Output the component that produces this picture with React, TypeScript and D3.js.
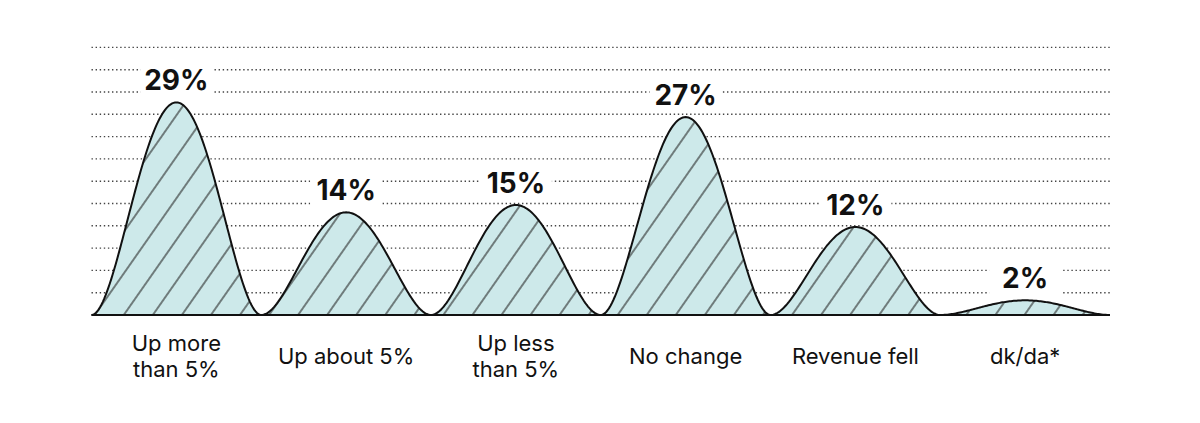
import React from 'react';
import * as d3 from 'd3';

const categories = ["Up more than 5%", "Up about 5%", "Up less than 5%", "No change", "Revenue fell", "dk/da*"];
const categoryLines = [["Up more", "than 5%"], ["Up about 5%"], ["Up less", "than 5%"], ["No change"], ["Revenue fell"], ["dk/da*"]];
const values = [29, 14, 15, 27, 12, 2];
const valueLabels = ["29%", "14%", "15%", "27%", "12%", "2%"];
const gridCount = 12;
const yMax = 36.5;

const W = 1200;
const H = 423;
const baseY = 315;
const FONT = "Inter, 'Noto Sans', sans-serif";

export default function App() {
  const x = d3.scaleBand<string>().domain(categories).range([91.5, 1110]).padding(0);
  const y = d3.scaleLinear().domain([0, yMax]).range([baseY, 47.4]);
  const gridVals = d3.range(1, gridCount + 1).map((i) => (i * yMax) / gridCount);
  const bw = x.bandwidth();
  const line = d3.line<[number, number]>().x((d) => d[0]).y((d) => d[1]).curve(d3.curveLinear);
  const steps = d3.range(0, 121).map((i) => i / 120);

  const bumpPath = (cat: string, v: number) => {
    const x0 = x(cat) as number;
    const pts: [number, number][] = steps.map((t) => {
      const d = 2 * t - 1;
      const f = (1 - d * d) * (1 - d * d);
      return [x0 + t * bw, y(v * f)];
    });
    return line(pts) as string;
  };

  const bumpArea = (cat: string, v: number) => bumpPath(cat, v) + `L${(x(cat) as number) + bw},${baseY}L${x(cat)},${baseY}Z`;

  return (
    <svg width={W} height={H} style={{ position: 'absolute', left: 0, top: 0, background: '#fff' }}>
      <defs>
        <pattern id="hatch" patternUnits="userSpaceOnUse" width={23.8} height={20}
          patternTransform={`translate(94.7,${baseY}) rotate(35)`}>
          <rect width={23.8} height={20} fill="#cde9ea" />
          <line x1={0} y1={0} x2={0} y2={20} stroke="#222" strokeWidth={1.1} />
          <line x1={23.8} y1={0} x2={23.8} y2={20} stroke="#222" strokeWidth={1.1} />
        </pattern>
      </defs>
      <rect width={W} height={H} fill="#fff" />
      <g>
        {gridVals.map((g, i) => (
          <line key={i} x1={91.5} x2={1110} y1={y(g)} y2={y(g)} stroke="#444" strokeWidth={1.4} strokeDasharray="1.4 2.7" />
        ))}
      </g>
      <g>
        {categories.map((c, i) => (
          <g key={c}>
            <path d={bumpArea(c, values[i])} fill="url(#hatch)" stroke="none" />
            <path d={bumpPath(c, values[i])} fill="none" stroke="#111" strokeWidth={2} />
          </g>
        ))}
      </g>
      <line x1={91.5} x2={1110} y1={baseY} y2={baseY} stroke="#111" strokeWidth={2} />
      <g>
        {categories.map((c, i) => {
          const cx = (x(c) as number) + bw / 2;
          const by = y(values[i]) - 12;
          return (
            <g key={c}>
              <rect x={cx - 36} y={by - 28} width={72} height={34} fill="#fff" />
              <text x={cx} y={by} textAnchor="middle" fontFamily={FONT} fontWeight={700} fontSize={28} fill="#111">
                {valueLabels[i]}
              </text>
            </g>
          );
        })}
      </g>
      <g>
        {categories.map((c, i) => {
          const cx = (x(c) as number) + bw / 2;
          const linesArr = categoryLines[i];
          const lh = 26.7;
          const firstBase = 364 - ((linesArr.length - 1) * lh) / 2;
          return (
            <text key={c} x={cx} textAnchor="middle" fontFamily={FONT} fontSize={22} fill="#111">
              {linesArr.map((l, j) => (
                <tspan key={j} x={cx} y={firstBase + j * lh}>{l}</tspan>
              ))}
            </text>
          );
        })}
      </g>
    </svg>
  );
}
